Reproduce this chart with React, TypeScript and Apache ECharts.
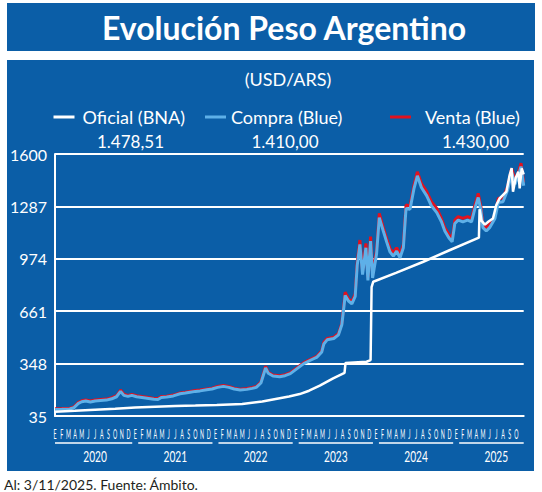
import React, { useEffect, useRef } from "react";
import * as echarts from "echarts";

// ---------- data ----------
const MONTH_LETTERS = ["E", "F", "M", "A", "M", "J", "J", "A", "S", "O", "N", "D"];
const YEARS = ["2020", "2021", "2022", "2023", "2024", "2025"];
const MONTHS_SHOWN = 70; // Jan 2020 .. Oct 2025
const X_MAX = 70.1; // 3 Nov 2025, in months since Jan 2020
const Y_TICKS = [35, 348, 661, 974, 1287, 1600];

// Dólar blue — time in months since 1 Jan 2020
const blueT = [
  0.0, 1.0, 2.2, 2.8, 3.5, 4.0, 4.6, 5.3, 6.0, 6.8, 7.7, 8.5, 9.2, 9.8, 10.3, 10.9, 11.5,
  12.2, 13.0, 14.0, 14.8, 15.4, 15.9, 16.7, 17.7, 18.7, 19.5, 20.2, 21.0, 21.7, 22.7, 23.5,
  24.3, 25.2, 26.0, 26.8, 27.7, 28.7, 29.5, 30.1, 30.8, 31.5, 31.9, 32.6, 33.6, 34.4, 35.2,
  36.2, 37.2, 38.2, 39.2, 39.9, 40.2, 40.7, 41.7, 42.4, 42.9, 43.4, 43.9, 44.4, 44.9, 45.2,
  45.6, 46.0, 46.5, 46.8, 47.2, 47.5, 48.1, 48.5, 49.1, 49.6, 50.1, 50.6, 51.1, 51.6, 52.1,
  52.5, 53.1, 53.7, 54.2, 54.8, 55.6, 56.3, 57.1, 57.8, 58.3, 58.9, 59.4, 59.8, 60.3, 61.0,
  61.7, 62.3, 62.8, 63.3, 63.7, 64.0, 64.5, 65.0, 65.8, 66.3, 67.0, 67.7, 68.3, 68.8, 69.3,
  69.7, 70.1,
];
const blueCompra = [
  74, 75, 77, 84, 110, 120, 124, 119, 125, 128, 130, 138, 150, 182, 158, 152, 158,
  150, 146, 140, 135, 134, 146, 148, 155, 168, 172, 177, 182, 185, 192, 196,
  206, 212, 206, 196, 190, 194, 200, 206, 232, 322, 290, 274, 270, 276, 288,
  318, 348, 368, 387, 418, 465, 490, 498, 520, 580, 755, 722, 705, 750, 935,
  1060, 880, 1040, 845, 1080, 860, 1005, 1220, 1140, 1075, 1015, 990, 1020, 980, 1040,
  1275, 1270, 1395, 1470, 1400, 1350, 1290, 1250, 1195, 1140, 1100, 1075, 1185, 1205, 1195,
  1205, 1195, 1275, 1340, 1265, 1160, 1140, 1160, 1215, 1310, 1315, 1385, 1490, 1420, 1470,
  1525, 1410,
];
const blueVenta = [
  79, 80, 82, 89, 116, 126, 130, 125, 131, 134, 136, 144, 156, 190, 165, 158, 164,
  156, 151, 145, 140, 139, 151, 153, 160, 173, 177, 182, 187, 190, 197, 201,
  211, 217, 211, 201, 195, 199, 205, 211, 238, 332, 296, 280, 276, 282, 294,
  324, 354, 374, 393, 424, 475, 498, 506, 528, 590, 775, 735, 718, 765, 955,
  1086, 900, 1066, 865, 1106, 880, 1026, 1245, 1160, 1095, 1035, 1010, 1040, 1000, 1060,
  1295, 1290, 1415, 1494, 1424, 1375, 1315, 1275, 1215, 1160, 1120, 1095, 1205, 1226, 1215,
  1226, 1215, 1295, 1365, 1285, 1180, 1160, 1180, 1236, 1335, 1335, 1405, 1514, 1445, 1490,
  1545, 1430,
];

// Oficial (BNA)
const oficialT = [
  0, 3, 6, 9, 12, 15, 18, 21, 24.2, 28, 31, 33, 35, 36.6, 38, 39.6, 41.6, 43.3, 43.45,
  46.6, 47.2, 47.35, 47.6, 51, 55, 59, 63.4, 63.5, 63.8, 64.3, 64.8, 65.5, 66.0, 66.5,
  67.5, 68.0, 68.3, 68.5, 68.9, 69.3, 69.5, 69.8, 70.1,
];
const oficialV = [
  61, 66, 72, 78, 86, 90, 94, 97, 101, 107, 122, 137, 152, 166, 186, 216, 260, 292, 352,
  359, 369, 805, 837, 890, 955, 1025, 1100, 1270, 1200, 1178, 1195, 1215, 1295, 1335,
  1375, 1474, 1516, 1375, 1456, 1494, 1395, 1514, 1478.51,
];

// ---------- helpers ----------
const FONT = "Lato, 'Noto Sans', sans-serif";
const PANEL = "#0b5ea7";
const RED = "#e2121f";
const LIGHT = "#5eb0e8";
const WHITE = "#ffffff";

const fmtAR = (v: number) => {
  const [i, d] = v.toFixed(2).split(".");
  return i.replace(/\B(?=(\d{3})+(?!\d))/g, ".") + "," + d;
};
const zip = (t: number[], v: number[]) => t.map((x, i) => [x, v[i]]);

const txt = (x: number, y: number, text: string, font: string, extra: any = {}) => ({
  type: "text",
  x,
  y,
  z: 10,
  ...extra,
  style: {
    text,
    fill: extra.fill || WHITE,
    font,
    textAlign: extra.align || "center",
    textVerticalAlign: "middle",
    align: extra.align || "center",
    verticalAlign: "middle",
  },
});

export default function App() {
  const ref = useRef<HTMLDivElement>(null);

  useEffect(() => {
    document.body.style.margin = "0";
    const chart = echarts.init(ref.current!, undefined, { renderer: "svg" });

    const legendBase = {
      top: 107,
      padding: 0,
      itemWidth: 21,
      itemHeight: 3,
      icon: "rect",
      selectedMode: false,
    };
    const legendText = (pad: number) => ({
      color: WHITE,
      fontSize: 18,
      fontFamily: FONT,
      lineHeight: 20,
      padding: [0, 0, 0, pad],
    });

    chart.setOption({
      animation: false,
      grid: { left: 55, right: 18.3, top: 154, bottom: 76 },
      legend: [
        { ...legendBase, left: 53.5, data: ["Oficial (BNA)"], textStyle: legendText(3) },
        { ...legendBase, left: 205, data: ["Compra (Blue)"], textStyle: legendText(0) },
        { ...legendBase, left: 390, data: ["Venta (Blue)"], textStyle: legendText(9) },
      ],
      xAxis: {
        type: "value",
        min: 0,
        max: X_MAX,
        axisLine: { show: true, lineStyle: { color: WHITE, width: 2 } },
        axisTick: { show: false },
        axisLabel: { show: false },
        splitLine: { show: false },
      },
      yAxis: {
        type: "value",
        min: Y_TICKS[0],
        max: Y_TICKS[Y_TICKS.length - 1],
        interval: Y_TICKS[1] - Y_TICKS[0],
        axisLine: { show: true, lineStyle: { color: WHITE, width: 2 } },
        axisTick: { show: false },
        axisLabel: {
          color: WHITE,
          fontSize: 16,
          fontFamily: FONT,
          margin: 8,
          formatter: (v: number) => String(Math.round(v)),
        },
        splitLine: { show: true, lineStyle: { color: WHITE, width: 2 } },
      },
      series: [
        {
          name: "Venta (Blue)",
          type: "line",
          data: zip(blueT, blueVenta),
          symbol: "none",
          color: RED,
          lineStyle: { width: 3, color: RED },
          z: 2,
        },
        {
          name: "Compra (Blue)",
          type: "line",
          data: zip(blueT, blueCompra),
          symbol: "none",
          color: LIGHT,
          lineStyle: { width: 3, color: LIGHT },
          z: 3,
        },
        {
          name: "Oficial (BNA)",
          type: "line",
          data: zip(oficialT, oficialV),
          symbol: "none",
          color: WHITE,
          lineStyle: { width: 2.5, color: WHITE },
          z: 4,
        },
      ],
    });

    const px = (m: number) => chart.convertToPixel({ xAxisIndex: 0 }, m) as number;
    const py = (v: number) => chart.convertToPixel({ yAxisIndex: 0 }, v) as number;
    const base = py(Y_TICKS[0]);

    const els: any[] = [
      { type: "rect", z: -10, shape: { x: 7, y: 3, width: 528, height: 48 }, style: { fill: PANEL } },
      { type: "rect", z: -10, shape: { x: 7, y: 60, width: 527, height: 411 }, style: { fill: PANEL } },
      txt(284, 27, "Evolución Peso Argentino", `bold 32px ${FONT}`),
      txt(288, 79, "(USD/ARS)", `18px ${FONT}`),
      txt(130.5, 141, fmtAR(oficialV[oficialV.length - 1]), `17px ${FONT}`),
      txt(285, 141, fmtAR(blueCompra[blueCompra.length - 1]), `17px ${FONT}`),
      txt(475.5, 141, fmtAR(blueVenta[blueVenta.length - 1]), `17px ${FONT}`),
      txt(4, 484, "Al: 3/11/2025. Fuente: Ámbito.", `14px ${FONT}`, { fill: "#231f20", align: "left" }),
    ];

    for (let i = 0; i < MONTHS_SHOWN; i++) {
      els.push(txt(px(i), base + 18, MONTH_LETTERS[i % 12], `14px ${FONT}`, { scaleX: 0.38 }));
    }
    YEARS.forEach((yr, k) => {
      const s = px(k * 12);
      const eFull = px((k + 1) * 12);
      const x1 = k === 0 ? s : s + 3;
      const x2 = k === YEARS.length - 1 ? px(X_MAX) : eFull - 3;
      els.push({
        type: "line",
        z: 10,
        shape: { x1, y1: base + 27, x2, y2: base + 27 },
        style: { stroke: WHITE, lineWidth: 1.5 },
      });
      els.push(txt((s + eFull) / 2, base + 40, yr, `15px ${FONT}`, { scaleX: 0.68 }));
    });

    chart.setOption({ graphic: { elements: els } });

    return () => chart.dispose();
  }, []);

  return <div ref={ref} style={{ width: 542, height: 492 }} />;
}
